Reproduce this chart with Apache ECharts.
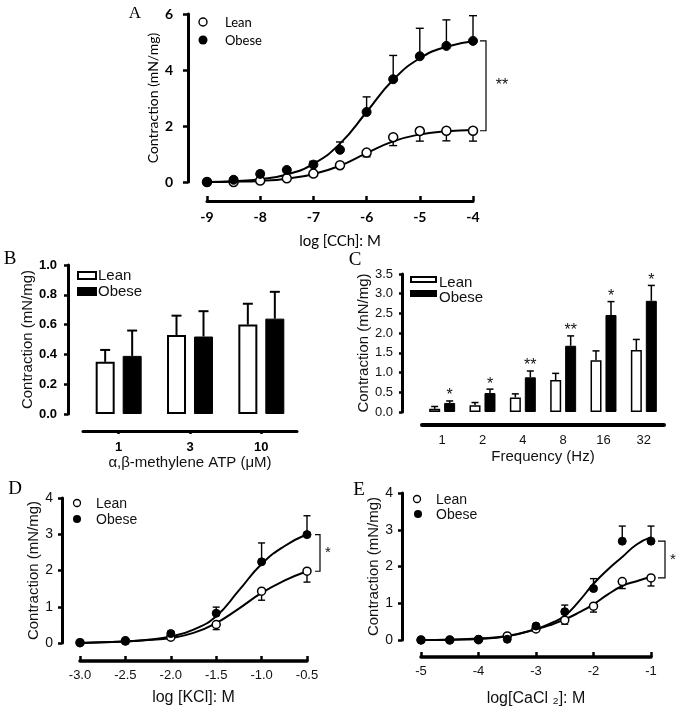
<!DOCTYPE html>
<html><head><meta charset="utf-8">
<script src="https://cdn.jsdelivr.net/npm/echarts@6/dist/echarts.min.js"></script>
<style>html,body{margin:0;padding:0;background:#fff}#c{width:679px;height:708px}</style>
</head><body><div id="c"></div>
<script>
// ---------- Panel A: CCh ----------
const aX = [-9,-8.5,-8,-7.5,-7,-6.5,-6,-5.5,-5,-4.5,-4];
const aLean = [0,0,0.05,0.13,0.3,0.6,1.05,1.6,1.82,1.83,1.83];
const aLeanErr = [0,0,0.02,0.03,0.05,0.06,0.15,0.3,0.36,0.36,0.37];
const aObese = [0,0.08,0.29,0.43,0.62,1.15,2.5,3.67,4.49,4.86,5.04];
const aObeseErr = [0,0.02,0.09,0.03,0.12,0.28,0.54,0.85,1.0,0.93,0.9];
const aFitX = [-9,-8.5,-8,-7.5,-7,-6.5,-6,-5.5,-5,-4.5,-4];
const aLeanFit = [0,0.01,0.04,0.12,0.28,0.58,1.03,1.45,1.7,1.81,1.86];
const aObeseFit = [0,0.03,0.1,0.27,0.65,1.37,2.5,3.65,4.42,4.83,5.03];
const aXTicks = [-9,-4,1];   // min, max, step
const aYTicks = [0,6,2];

// ---------- Panel B: alpha,beta-methylene ATP ----------
const bCats = ['1','3','10'];
const bLean = [0.35,0.53,0.6];
const bLeanErr = [0.08,0.13,0.14];
const bObese = [0.39,0.52,0.64];
const bObeseErr = [0.17,0.17,0.18];
const bYTicks = [0,1,0.2];

// ---------- Panel C: EFS frequency ----------
const cCats = ['1','2','4','8','16','32'];
const cLean = [0.08,0.17,0.37,0.81,1.31,1.57];
const cLeanErr = [0.06,0.07,0.09,0.17,0.24,0.27];
const cObese = [0.23,0.48,0.88,1.68,2.46,2.82];
const cObeseErr = [0.05,0.1,0.16,0.25,0.34,0.39];
const cStars = ['*','*','**','**','*','*'];
const cYTicks = [0,3.5,0.5];

// ---------- Panel D: KCl ----------
const dX = [-3,-2.5,-2,-1.5,-1,-0.5];
const dLean = [0.01,0.06,0.16,0.51,1.43,1.98];
const dLeanErr = [0,0,0.03,0.14,0.25,0.3];
const dObese = [0.01,0.05,0.26,0.82,2.24,2.99];
const dObeseErr = [0,0,0.06,0.17,0.52,0.52];
const dFitX = [-3,-2.75,-2.5,-2.25,-2,-1.75,-1.5,-1.25,-1,-0.75,-0.5];
const dLeanFit = [0,0.02,0.04,0.08,0.14,0.28,0.55,0.95,1.38,1.72,1.98];
const dObeseFit = [0,0.02,0.04,0.09,0.18,0.37,0.74,1.45,2.18,2.67,3.0];
const dXTicks = [-3,-0.5,0.5];
const dYTicks = [0,4,1];

// ---------- Panel E: CaCl2 ----------
const eX = [-5,-4.5,-4,-3.5,-3,-2.5,-2,-1.5,-1];
const eLean = [0,0,0.01,0.11,0.3,0.54,0.92,1.59,1.69];
const eLeanErr = [0,0,0,0,0.03,0.11,0.16,0.19,0.22];
const eObese = [0,0,0.02,0.02,0.38,0.77,1.4,2.69,2.69];
const eObeseErr = [0,0,0,0,0.04,0.18,0.27,0.41,0.41];
const eFitX = [-5,-4.5,-4,-3.5,-3,-2.75,-2.5,-2.25,-2,-1.75,-1.5,-1.25,-1];
const eLeanFit = [0,0.01,0.03,0.1,0.29,0.41,0.56,0.75,0.97,1.24,1.47,1.6,1.72];
const eObeseFit = [0,0.01,0.04,0.11,0.3,0.45,0.66,1.06,1.53,1.92,2.26,2.6,2.8];
const eXTicks = [-5,-1,1];
const eYTicks = [0,4,1];

const zip = (xs, ys) => xs.map((x,i)=>[x, ys[i]]);
const zip3 = (xs, ys, es) => xs.map((x,i)=>[x, ys[i], es[i]]);

const SANS = 'Liberation Sans';
const CAL = 'Lato';
const SERIF = 'Liberation Serif';
const TXT = '#111';

function errCurve(dir, cap, lw){
  return function(params, api){
    const x = api.value(0), y = api.value(1), e = api.value(2);
    if (!e) return null;
    const p0 = api.coord([x,y]), p1 = api.coord([x, y + dir*e]);
    return {type:'group', children:[
      {type:'line', shape:{x1:p0[0],y1:p0[1],x2:p1[0],y2:p1[1]}, style:{stroke:'#000',lineWidth:lw}},
      {type:'line', shape:{x1:p1[0]-cap,y1:p1[1],x2:p1[0]+cap,y2:p1[1]}, style:{stroke:'#000',lineWidth:lw}}
    ]};
  };
}
function errBar(off, cap, lw, star){
  return function(params, api){
    const i = api.value(0), y = api.value(1), e = api.value(2);
    const p0 = api.coord([i,y]), p1 = api.coord([i, y+e]);
    const x = p0[0] + off;
    const ch = [
      {type:'line', shape:{x1:x,y1:p0[1],x2:x,y2:p1[1]}, style:{stroke:'#000',lineWidth:lw}},
      {type:'line', shape:{x1:x-cap,y1:p1[1],x2:x+cap,y2:p1[1]}, style:{stroke:'#000',lineWidth:lw}}
    ];
    if (star) {
      ch.push({type:'text', x:x, y:p1[1]+3, style:{text:star[params.dataIndex], font:'16px '+SANS, fill:TXT, align:'center', verticalAlign:'bottom'}});
    }
    return {type:'group', children:ch};
  };
}
function bracket(d1, d2, d3, label, font){
  return function(params, api){
    const x = api.value(0);
    const pt = api.coord([x, api.value(1)]), pb = api.coord([x, api.value(2)]);
    return {type:'group', children:[
      {type:'polyline', shape:{points:[[pt[0]+d1,pt[1]],[pt[0]+d2,pt[1]],[pb[0]+d2,pb[1]],[pb[0]+d1,pb[1]]]}, style:{stroke:'#000',lineWidth:1.2,fill:null}},
      {type:'text', x:pt[0]+d3, y:(pt[1]+pb[1])/2, style:{text:label, font:font, fill:TXT, align:'center', verticalAlign:'middle'}}
    ]};
  };
}

function axisBase(grid, off, lineW, tickLen, tickInside, label, name, nameGap, nameStyle, extra){
  return Object.assign({
    gridIndex:grid, offset:off,
    axisLine:{show:true, onZero:false, lineStyle:{color:'#000', width:lineW}},
    axisTick:{show:tickLen>0, inside:tickInside, length:tickLen, lineStyle:{color:'#000', width:2.5}},
    splitLine:{show:false},
    axisLabel:label,
    name:name, nameLocation:'middle', nameGap:nameGap,
    nameTextStyle:nameStyle
  }, extra);
}
const lab = (o) => Object.assign({color:TXT, fontFamily:SANS, fontSize:13, margin:9}, o||{});
const nm = (o) => Object.assign({color:TXT, fontFamily:SANS, fontSize:15}, o||{});
const fix1 = v => v.toFixed(1);
const valRange = t => ({type:'value', min:t[0], max:t[1], interval:t[2]});

const series = [];
function curvePanel(idx, xs, lean, leanErr, obese, obeseErr, fx, lf, of, sym, cap, br){
  const base = {xAxisIndex:idx, yAxisIndex:idx};
  series.push(Object.assign({type:'line', data:zip(fx, lf), smooth:0.5, symbol:'none', lineStyle:{color:'#000', width:2}, z:2, silent:true}, base));
  series.push(Object.assign({type:'line', data:zip(fx, of), smooth:0.5, symbol:'none', lineStyle:{color:'#000', width:2}, z:2, silent:true}, base));
  series.push(Object.assign({type:'custom', data:zip3(xs, lean, leanErr), renderItem:errCurve(-1, cap, 1.4), clip:false, z:3}, base));
  series.push(Object.assign({type:'custom', data:zip3(xs, obese, obeseErr), renderItem:errCurve(1, cap, 1.4), clip:false, z:3}, base));
  series.push(Object.assign({type:'scatter', data:zip(xs, lean), symbol:'circle', symbolSize:sym, itemStyle:{color:'#fff', borderColor:'#000', borderWidth:1.5, opacity:1}, z:4}, base));
  series.push(Object.assign({type:'scatter', data:zip(xs, obese), symbol:'circle', symbolSize:sym, itemStyle:{color:'#000', borderColor:'#000', borderWidth:1, opacity:1}, z:5}, base));
  const n = xs.length-1;
  series.push(Object.assign({type:'custom', data:[[xs[n], obese[n], lean[n]]], renderItem:bracket(br[0], br[1], br[2], br[3], br[4]), clip:false, z:6}, base));
}

curvePanel(0, aX, aLean, aLeanErr, aObese, aObeseErr, aFitX, aLeanFit, aObeseFit, 9, 4, [7, 13, 29, '**', '16px '+SANS]);
curvePanel(3, dX, dLean, dLeanErr, dObese, dObeseErr, dFitX, dLeanFit, dObeseFit, 8, 3.5, [8, 13, 21, '*', '15px '+SANS]);
curvePanel(4, eX, eLean, eLeanErr, eObese, eObeseErr, eFitX, eLeanFit, eObeseFit, 8, 3.5, [7, 14, 22, '*', '15px '+SANS]);

// Bars B
series.push({type:'bar', xAxisIndex:1, yAxisIndex:1, data:bLean, barWidth:19, barGap:'42%', itemStyle:{color:'#fff', borderColor:'#000', borderWidth:2}, z:2});
series.push({type:'bar', xAxisIndex:1, yAxisIndex:1, data:bObese, barWidth:19, barGap:'42%', itemStyle:{color:'#000', borderColor:'#000', borderWidth:1}, z:2});
series.push({type:'custom', xAxisIndex:1, yAxisIndex:1, data:bLean.map((v,i)=>[i,v,bLeanErr[i]]), renderItem:errBar(-13.5, 5, 2), clip:false, z:3});
series.push({type:'custom', xAxisIndex:1, yAxisIndex:1, data:bObese.map((v,i)=>[i,v,bObeseErr[i]]), renderItem:errBar(13.5, 5, 2), clip:false, z:3});
// Bars C
series.push({type:'bar', xAxisIndex:2, yAxisIndex:2, data:cLean, barWidth:11, barGap:'36%', itemStyle:{color:'#fff', borderColor:'#000', borderWidth:1.5}, z:2});
series.push({type:'bar', xAxisIndex:2, yAxisIndex:2, data:cObese, barWidth:11, barGap:'36%', itemStyle:{color:'#000', borderColor:'#000', borderWidth:1}, z:2});
series.push({type:'custom', xAxisIndex:2, yAxisIndex:2, data:cLean.map((v,i)=>[i,v,cLeanErr[i]]), renderItem:errBar(-7.5, 3.5, 1.5), clip:false, z:3});
series.push({type:'custom', xAxisIndex:2, yAxisIndex:2, data:cObese.map((v,i)=>[i,v,cObeseErr[i]]), renderItem:errBar(7.5, 3.5, 1.5, cStars), clip:false, z:3});

const boldCal = {color:'#000', fontFamily:CAL, fontSize:14, fontWeight:'bold'};

const option = {
  animation:false,
  backgroundColor:'#fff',
  grid:[
    {left:207, top:14, width:266, height:168},
    {left:83, top:265, width:214, height:149},
    {left:422, top:274, width:242, height:138},
    {left:80, top:498, width:227, height:145},
    {left:421, top:493, width:230, height:148}
  ],
  xAxis:[
    axisBase(0, 19, 3, 5, true, Object.assign({margin:9}, boldCal), 'log [CCh]: M', 33,
      {color:'#000', fontFamily:CAL, fontSize:15}, valRange(aXTicks)),
    axisBase(1, 17, 3, 3, false, lab({color:'#000', fontWeight:'bold', margin:10}), 'α,β-methylene ATP (μM)', 20, nm(),
      {type:'category', data:bCats, axisTick:{show:true, alignWithLabel:true, length:3, lineStyle:{color:'#000', width:2.5}}}),
    axisBase(2, 13, 4, 0, false, lab({margin:9}), 'Frequency (Hz)', 24, nm(),
      {type:'category', data:cCats}),
    axisBase(3, 18, 3.5, 5, true, lab({margin:8, formatter:fix1}), 'log [KCl]: M', 29, nm({fontSize:16}), valRange(dXTicks)),
    axisBase(4, 17, 3.5, 5, true, lab({margin:8}), 'log[CaCl ₂]: M', 34, nm({fontSize:16}), valRange(eXTicks))
  ],
  yAxis:[
    axisBase(0, 19, 3, 5, false, Object.assign({margin:15}, boldCal), 'Contraction (mN/mg)', 26,
      {color:'#000', fontFamily:CAL, fontSize:14}, valRange(aYTicks)),
    axisBase(1, 15, 3, 4, false, lab({color:'#000', fontWeight:'bold', margin:11, formatter:fix1}), 'Contraction (mN/mg)', 31, nm(), valRange(bYTicks)),
    axisBase(2, 20, 3, 3, false, lab({margin:9, formatter:fix1}), 'Contraction (mN/mg)', 29, nm(), valRange(cYTicks)),
    axisBase(3, 18, 3, 4, false, lab({fontSize:14, margin:9}), 'Contraction (mN/mg)', 17, nm(), valRange(dYTicks)),
    axisBase(4, 19, 3, 4, false, lab({fontSize:14, margin:9}), 'Contraction (mN/mg)', 17, nm(), valRange(eYTicks))
  ],
  series:series,
  graphic:[
    // panel letters
    {type:'text', x:135, y:14, style:{text:'A', font:'17px '+SERIF, fill:'#000', align:'center', verticalAlign:'middle'}},
    {type:'text', x:10, y:259, style:{text:'B', font:'19px '+SERIF, fill:'#000', align:'center', verticalAlign:'middle'}},
    {type:'text', x:355, y:260, style:{text:'C', font:'19px '+SERIF, fill:'#000', align:'center', verticalAlign:'middle'}},
    {type:'text', x:15, y:489, style:{text:'D', font:'19px '+SERIF, fill:'#000', align:'center', verticalAlign:'middle'}},
    {type:'text', x:359, y:490, style:{text:'E', font:'19px '+SERIF, fill:'#000', align:'center', verticalAlign:'middle'}},
    // legend A
    {type:'circle', shape:{cx:203, cy:22, r:4}, style:{fill:'#fff', stroke:'#000', lineWidth:1.4}},
    {type:'circle', shape:{cx:203, cy:40, r:4.5}, style:{fill:'#000'}},
    {type:'text', x:225, y:23, style:{text:'Lean', font:'13px '+CAL, fill:'#000', verticalAlign:'middle'}},
    {type:'text', x:225, y:41, style:{text:'Obese', font:'13px '+CAL, fill:'#000', verticalAlign:'middle'}},
    // legend B
    {type:'rect', shape:{x:78, y:272, width:18, height:7}, style:{fill:'#fff', stroke:'#000', lineWidth:2}},
    {type:'rect', shape:{x:77, y:287, width:20, height:9}, style:{fill:'#000'}},
    {type:'text', x:98, y:276, style:{text:'Lean', font:'15px '+SANS, fill:TXT, verticalAlign:'middle'}},
    {type:'text', x:98, y:292, style:{text:'Obese', font:'15px '+SANS, fill:TXT, verticalAlign:'middle'}},
    // legend C
    {type:'rect', shape:{x:411, y:277, width:25, height:5}, style:{fill:'#fff', stroke:'#000', lineWidth:2}},
    {type:'rect', shape:{x:410, y:290, width:27, height:7}, style:{fill:'#000'}},
    {type:'text', x:439, y:283, style:{text:'Lean', font:'15px '+SANS, fill:TXT, verticalAlign:'middle'}},
    {type:'text', x:439, y:298, style:{text:'Obese', font:'15px '+SANS, fill:TXT, verticalAlign:'middle'}},
    // legend D
    {type:'circle', shape:{cx:77, cy:503, r:3.5}, style:{fill:'#fff', stroke:'#000', lineWidth:1.3}},
    {type:'circle', shape:{cx:77, cy:519, r:4}, style:{fill:'#000'}},
    {type:'text', x:96, y:504, style:{text:'Lean', font:'14px '+SANS, fill:TXT, verticalAlign:'middle'}},
    {type:'text', x:96, y:520, style:{text:'Obese', font:'14px '+SANS, fill:TXT, verticalAlign:'middle'}},
    // legend E
    {type:'circle', shape:{cx:417, cy:499, r:3.5}, style:{fill:'#fff', stroke:'#000', lineWidth:1.3}},
    {type:'circle', shape:{cx:418, cy:514, r:4}, style:{fill:'#000'}},
    {type:'text', x:436, y:500, style:{text:'Lean', font:'14px '+SANS, fill:TXT, verticalAlign:'middle'}},
    {type:'text', x:436, y:515, style:{text:'Obese', font:'14px '+SANS, fill:TXT, verticalAlign:'middle'}}
  ]
};
echarts.init(document.getElementById('c'), null, {renderer:'canvas'}).setOption(option);
</script>
</body></html>
